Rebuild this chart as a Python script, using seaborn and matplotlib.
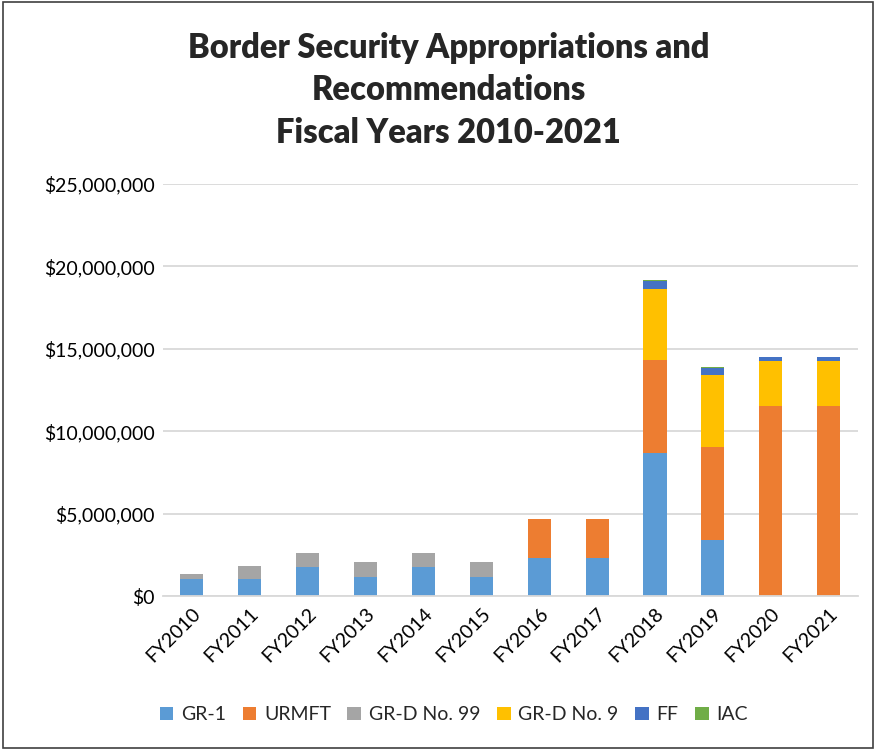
import matplotlib
matplotlib.use("Agg")
import matplotlib.pyplot as plt
import seaborn as sns
import pandas as pd
import numpy as np
from matplotlib.ticker import FuncFormatter

years = ["FY2010", "FY2011", "FY2012", "FY2013", "FY2014", "FY2015",
         "FY2016", "FY2017", "FY2018", "FY2019", "FY2020", "FY2021"]
gr1 = [1040000, 1040000, 1770000, 1160000, 1770000, 1160000,
       2320000, 2320000, 8650000, 3420000, 0, 0]
urmft = [0, 0, 0, 0, 0, 0, 2360000, 2360000, 5660000, 5630000, 11500000, 11500000]
grd99 = [280000, 810000, 830000, 880000, 830000, 880000, 0, 0, 0, 0, 0, 0]
grd9 = [0, 0, 0, 0, 0, 0, 0, 0, 4330000, 4370000, 2770000, 2770000]
ff = [0, 0, 0, 0, 0, 0, 0, 0, 450000, 420000, 220000, 220000]
iac = [0, 0, 0, 0, 0, 0, 0, 0, 60000, 50000, 0, 0]

series_names = ["GR-1", "URMFT", "GR-D No. 99", "GR-D No. 9", "FF", "IAC"]
series_vals = [gr1, urmft, grd99, grd9, ff, iac]
colors = ["#5B9BD5", "#ED7D31", "#A5A5A5", "#FFC000", "#4472C4", "#70AD47"]

sns.set_theme(style="white")
plt.rcParams["font.family"] = ["Lato", "DejaVu Sans"]

fig = plt.figure(figsize=(8.76, 7.5), dpi=100)
fig.patch.set_facecolor("white")
ax = fig.add_axes([0.186, 0.2053, 0.793, 0.5494])

bottom = np.zeros(len(years))
for name, vals, col in zip(series_names, series_vals, colors):
    df = pd.DataFrame({"year": years, "value": vals})
    sns.barplot(data=df, x="year", y="value", color=col, bottom=bottom,
                width=0.4, label=name, ax=ax, saturation=1, errorbar=None,
                edgecolor="none", linewidth=0)
    bottom = bottom + np.array(vals)

ax.set_ylim(0, 25000000)
ax.set_xlim(-0.5, len(years) - 0.5)
ax.set_yticks(np.arange(0, 25000001, 5000000))
ax.yaxis.set_major_formatter(FuncFormatter(lambda v, p: "${:,.0f}".format(v)))
ax.grid(axis="y", color="#D9D9D9", linewidth=1.3)
ax.set_axisbelow(True)
for s in ["top", "right", "left"]:
    ax.spines[s].set_visible(False)
ax.spines["bottom"].set_color("#D9D9D9")
ax.spines["bottom"].set_linewidth(1.3)
ax.set_xlabel("")
ax.set_ylabel("")
ax.tick_params(axis="both", length=0, labelsize=14, colors="black", pad=6)
plt.setp(ax.get_xticklabels(), rotation=45, ha="right", rotation_mode="anchor")

fig.text(0.512, 0.958, "Border Security Appropriations and\nRecommendations\nFiscal Years 2010-2021",
         ha="center", va="top", fontsize=23.5, fontweight="heavy", linespacing=1.42)

handles, labels = ax.get_legend_handles_labels()
leg = fig.legend(handles, labels, loc="center", bbox_to_anchor=(0.518, 0.047), ncol=6,
                 frameon=False, fontsize=14, handlelength=0.7, handleheight=0.7,
                 handletextpad=0.4, columnspacing=0.85)
if ax.get_legend() is not None:
    ax.get_legend().remove()

border = plt.Rectangle((0.003, 0.003), 0.994, 0.994, transform=fig.transFigure,
                       fill=False, edgecolor="#404040", linewidth=1.2)
fig.patches.append(border)

fig.savefig("out.png", dpi=100)
